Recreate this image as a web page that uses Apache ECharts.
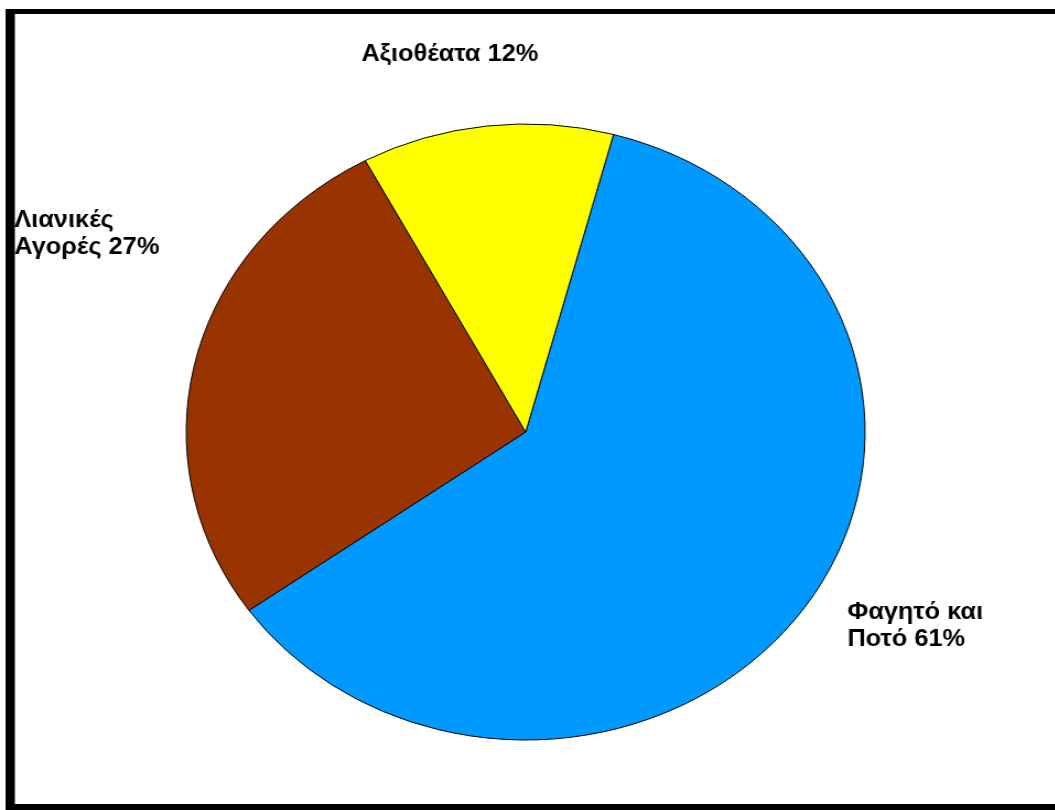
<!DOCTYPE html>
<html>
<head>
<meta charset="utf-8">
<script src="https://cdn.jsdelivr.net/npm/echarts@6/dist/echarts.min.js"></script>
<style>
  html, body { margin: 0; padding: 0; background: #fff; overflow: hidden; }
  /* the original picture is stretched sideways, so the chart is stretched too */
  #main { width: 957px; height: 810px; transform: scale(1.102, 1); transform-origin: 0 0; }
</style>
</head>
<body>
<div id="main"></div>
<script>
// κατηγορίες και ποσοστά
var categories = ["Φαγητό και\nΠοτό", "Λιανικές\nΑγορές", "Αξιοθέατα"];
var values = [61, 27, 12];
var colors = ["#0099ff", "#993300", "#ffff00"];

// θέσεις ετικετών (πάνω αριστερή γωνία, πριν το τέντωμα)
var labelPos = [
  { x: 769, y: 599 },
  { x: 13, y: 207 },
  { x: 328, y: 41 }
];

var chart = echarts.init(document.getElementById("main"));

var data = categories.map(function (name, i) {
  return { name: name, value: values[i], itemStyle: { color: colors[i] } };
});

chart.setOption({
  animation: false,
  graphic: [
    // μαύρο πλαίσιο
    { type: "rect", shape: { x: 5, y: 9, width: 960, height: 5 }, style: { fill: "#000" } },
    { type: "rect", shape: { x: 5, y: 9, width: 8.5, height: 801 }, style: { fill: "#000" } },
    { type: "rect", shape: { x: 5, y: 804, width: 960, height: 6 }, style: { fill: "#000" } }
  ],
  series: [
    {
      type: "pie",
      center: [477, 432],
      radius: 308,
      startAngle: 75,
      clockwise: true,
      data: data,
      itemStyle: { borderColor: "#000", borderWidth: 1 },
      emphasis: { disabled: true },
      labelLine: { show: false },
      label: {
        show: true,
        position: "inside",
        overflow: "none",
        formatter: function (p) {
          return p.name + " " + p.value + "%";
        },
        fontFamily: "Liberation Sans",
        fontWeight: "bold",
        fontSize: 23,
        lineHeight: 27,
        color: "#000"
      },
      labelLayout: function (params) {
        var p = labelPos[params.dataIndex];
        return { x: p.x, y: p.y, align: "left", verticalAlign: "top" };
      }
    }
  ]
});
</script>
</body>
</html>
